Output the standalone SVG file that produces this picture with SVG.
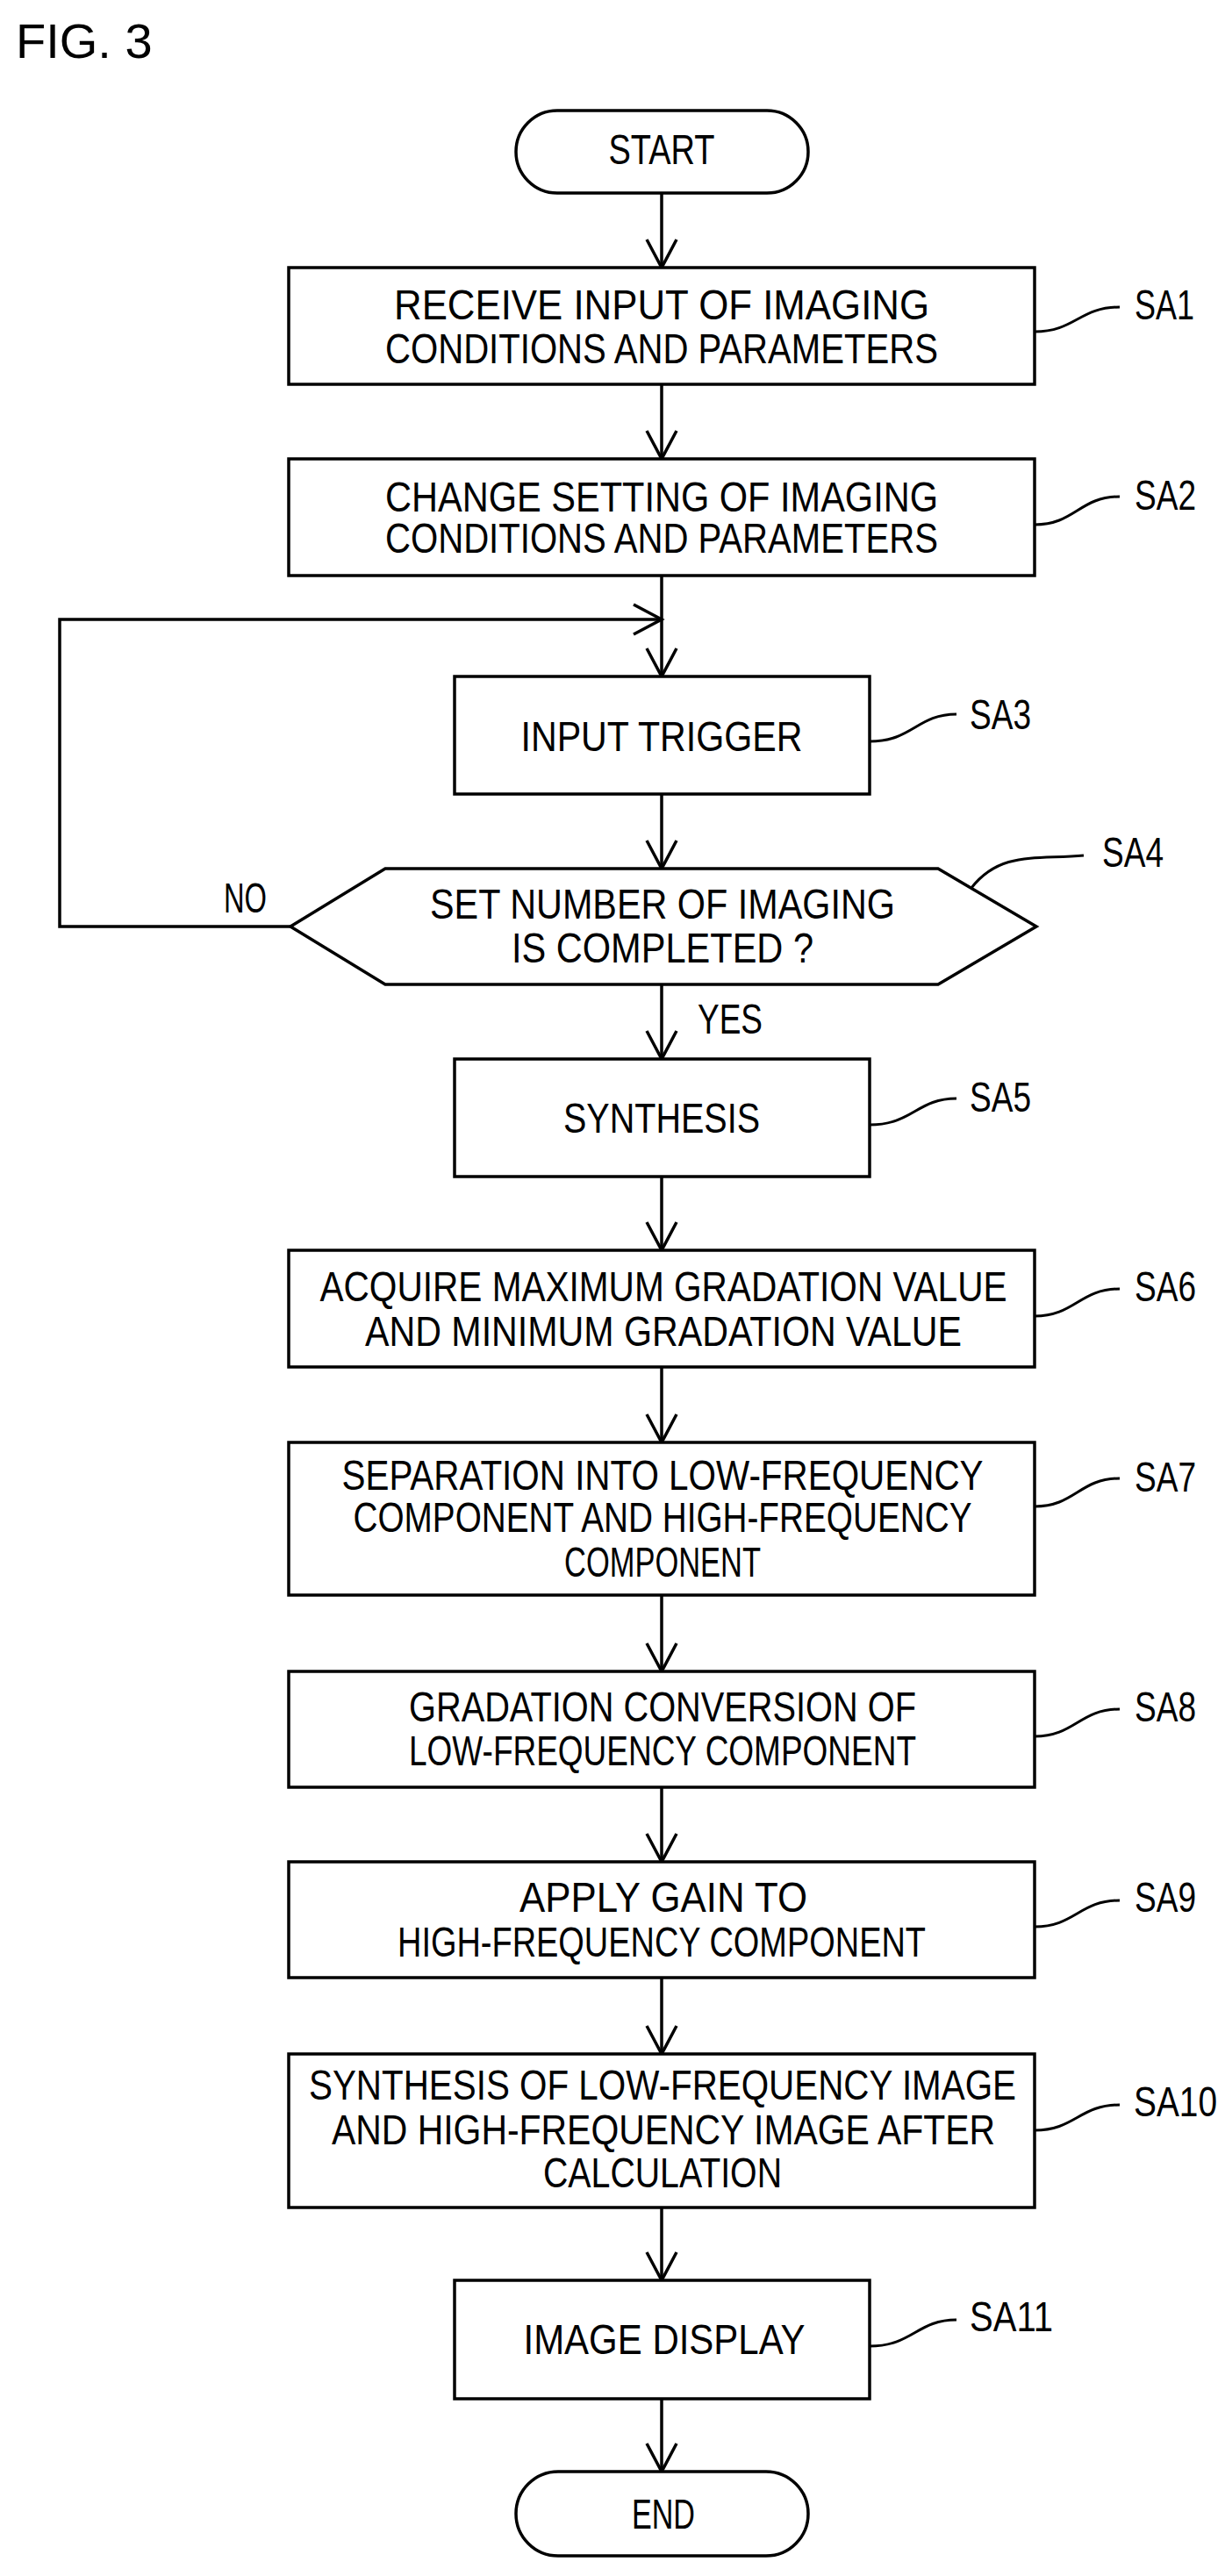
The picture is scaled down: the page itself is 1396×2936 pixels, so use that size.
<svg xmlns="http://www.w3.org/2000/svg" width="1396" height="2936" viewBox="0 0 1396 2936">
<style>
.b{fill:#fff;stroke:#000;stroke-width:3.5}
.t{font-family:"Liberation Sans",Arial,sans-serif;font-size:48px;fill:#000}
.c{text-anchor:middle}
.l{fill:none;stroke:#000;stroke-width:3}
.e{fill:none;stroke:#000;stroke-width:3.5}
</style>
<defs>
<marker id="a" markerUnits="userSpaceOnUse" markerWidth="40" markerHeight="40" orient="auto" refX="0" refY="0" overflow="visible"><path d="M-32,-17 L0,0 L-32,17" fill="none" stroke="#000" stroke-width="3.5"/></marker>
</defs>
<text x="18" y="66" style="font-family:'Liberation Sans',Arial,sans-serif;font-size:56px">FIG. 3</text>
<g id="edges">
<line class="e" x1="754" y1="220" x2="754" y2="305" marker-end="url(#a)"/>
<line class="e" x1="754" y1="438" x2="754" y2="523" marker-end="url(#a)"/>
<line class="e" x1="754" y1="656" x2="754" y2="771" marker-end="url(#a)"/>
<polyline class="e" points="331,1056 68,1056 68,706 754,706" marker-end="url(#a)"/>
<line class="e" x1="754" y1="905" x2="754" y2="990" marker-end="url(#a)"/>
<line class="e" x1="754" y1="1122" x2="754" y2="1207" marker-end="url(#a)"/>
<text class="t" x="795" y="1178" textLength="74" lengthAdjust="spacingAndGlyphs">YES</text>
<text class="t" x="255" y="1040" textLength="49" lengthAdjust="spacingAndGlyphs">NO</text>
<line class="e" x1="754" y1="1341" x2="754" y2="1425" marker-end="url(#a)"/>
<line class="e" x1="754" y1="1558" x2="754" y2="1644" marker-end="url(#a)"/>
<line class="e" x1="754" y1="1818" x2="754" y2="1905" marker-end="url(#a)"/>
<line class="e" x1="754" y1="2037" x2="754" y2="2122" marker-end="url(#a)"/>
<line class="e" x1="754" y1="2254" x2="754" y2="2341" marker-end="url(#a)"/>
<line class="e" x1="754" y1="2516" x2="754" y2="2599" marker-end="url(#a)"/>
<line class="e" x1="754" y1="2734" x2="754" y2="2817" marker-end="url(#a)"/>
</g>
<g id="start"><rect class="b" x="588" y="126" width="333" height="94" rx="47"/><text class="t c" x="754" y="187" textLength="121" lengthAdjust="spacingAndGlyphs">START</text></g>
<g id="SA1"><rect class="b" x="329" y="305" width="850" height="133"/>
<text class="t c" x="754" y="364" textLength="610" lengthAdjust="spacingAndGlyphs">RECEIVE INPUT OF IMAGING</text>
<text class="t c" x="754" y="414" textLength="630" lengthAdjust="spacingAndGlyphs">CONDITIONS AND PARAMETERS</text>
<path class="l" d="M1179,378 C1225,378 1230,350 1276,350"/><text class="t" x="1293" y="364" textLength="68" lengthAdjust="spacingAndGlyphs">SA1</text></g>
<g id="SA2"><rect class="b" x="329" y="523" width="850" height="133"/>
<text class="t c" x="754" y="583" textLength="630" lengthAdjust="spacingAndGlyphs">CHANGE SETTING OF IMAGING</text>
<text class="t c" x="754" y="630" textLength="630" lengthAdjust="spacingAndGlyphs">CONDITIONS AND PARAMETERS</text>
<path class="l" d="M1179,598 C1225,598 1230,566 1276,566"/><text class="t" x="1293" y="581" textLength="70" lengthAdjust="spacingAndGlyphs">SA2</text></g>
<g id="SA3"><rect class="b" x="518" y="771" width="473" height="134"/>
<text class="t c" x="754" y="856" textLength="321" lengthAdjust="spacingAndGlyphs">INPUT TRIGGER</text>
<path class="l" d="M991,845 C1040,845 1045,814 1090,814"/><text class="t" x="1105" y="831" textLength="70" lengthAdjust="spacingAndGlyphs">SA3</text></g>
<g id="SA4"><polygon class="b" points="331,1056 439,990 1069,990 1181,1056 1069,1122 439,1122"/>
<text class="t c" x="755" y="1047" textLength="530" lengthAdjust="spacingAndGlyphs">SET NUMBER OF IMAGING</text>
<text class="t c" x="755" y="1097" textLength="344" lengthAdjust="spacingAndGlyphs">IS COMPLETED ?</text>
<path class="l" d="M1107,1012 C1140,970 1180,980 1235,975"/><text class="t" x="1256" y="988" textLength="70" lengthAdjust="spacingAndGlyphs">SA4</text></g>
<g id="SA5"><rect class="b" x="518" y="1207" width="473" height="134"/>
<text class="t c" x="754" y="1291" textLength="224" lengthAdjust="spacingAndGlyphs">SYNTHESIS</text>
<path class="l" d="M991,1282 C1040,1282 1045,1252 1090,1252"/><text class="t" x="1105" y="1267" textLength="70" lengthAdjust="spacingAndGlyphs">SA5</text></g>
<g id="SA6"><rect class="b" x="329" y="1425" width="850" height="133"/>
<text class="t c" x="756" y="1483" textLength="783" lengthAdjust="spacingAndGlyphs">ACQUIRE MAXIMUM GRADATION VALUE</text>
<text class="t c" x="756" y="1534" textLength="680" lengthAdjust="spacingAndGlyphs">AND MINIMUM GRADATION VALUE</text>
<path class="l" d="M1179,1500 C1225,1500 1230,1469 1276,1469"/><text class="t" x="1293" y="1483" textLength="70" lengthAdjust="spacingAndGlyphs">SA6</text></g>
<g id="SA7"><rect class="b" x="329" y="1644" width="850" height="174"/>
<text class="t c" x="755" y="1698" textLength="731" lengthAdjust="spacingAndGlyphs">SEPARATION INTO LOW-FREQUENCY</text>
<text class="t c" x="755" y="1746" textLength="705" lengthAdjust="spacingAndGlyphs">COMPONENT AND HIGH-FREQUENCY</text>
<text class="t c" x="755" y="1797" textLength="224" lengthAdjust="spacingAndGlyphs">COMPONENT</text>
<path class="l" d="M1179,1717 C1225,1717 1230,1685 1276,1685"/><text class="t" x="1293" y="1700" textLength="70" lengthAdjust="spacingAndGlyphs">SA7</text></g>
<g id="SA8"><rect class="b" x="329" y="1905" width="850" height="132"/>
<text class="t c" x="755" y="1962" textLength="578" lengthAdjust="spacingAndGlyphs">GRADATION CONVERSION OF</text>
<text class="t c" x="755" y="2012" textLength="578" lengthAdjust="spacingAndGlyphs">LOW-FREQUENCY COMPONENT</text>
<path class="l" d="M1179,1979 C1225,1979 1230,1948 1276,1948"/><text class="t" x="1293" y="1962" textLength="70" lengthAdjust="spacingAndGlyphs">SA8</text></g>
<g id="SA9"><rect class="b" x="329" y="2122" width="850" height="132"/>
<text class="t c" x="756" y="2179" textLength="328" lengthAdjust="spacingAndGlyphs">APPLY GAIN TO</text>
<text class="t c" x="754" y="2230" textLength="602" lengthAdjust="spacingAndGlyphs">HIGH-FREQUENCY COMPONENT</text>
<path class="l" d="M1179,2196 C1225,2196 1230,2166 1276,2166"/><text class="t" x="1293" y="2179" textLength="70" lengthAdjust="spacingAndGlyphs">SA9</text></g>
<g id="SA10"><rect class="b" x="329" y="2341" width="850" height="175"/>
<text class="t c" x="755" y="2393" textLength="806" lengthAdjust="spacingAndGlyphs">SYNTHESIS OF LOW-FREQUENCY IMAGE</text>
<text class="t c" x="756" y="2444" textLength="756" lengthAdjust="spacingAndGlyphs">AND HIGH-FREQUENCY IMAGE AFTER</text>
<text class="t c" x="755" y="2493" textLength="272" lengthAdjust="spacingAndGlyphs">CALCULATION</text>
<path class="l" d="M1179,2428 C1225,2428 1230,2399 1276,2399"/><text class="t" x="1292" y="2412" textLength="95" lengthAdjust="spacingAndGlyphs">SA10</text></g>
<g id="SA11"><rect class="b" x="518" y="2599" width="473" height="135"/>
<text class="t c" x="757" y="2683" textLength="321" lengthAdjust="spacingAndGlyphs">IMAGE DISPLAY</text>
<path class="l" d="M991,2674 C1040,2674 1045,2644 1090,2644"/><text class="t" x="1105" y="2657" textLength="95" lengthAdjust="spacingAndGlyphs">SA11</text></g>
<g id="end"><rect class="b" x="588" y="2817" width="333" height="96" rx="48"/><text class="t c" x="756" y="2882" textLength="72" lengthAdjust="spacingAndGlyphs">END</text></g>
</svg>
